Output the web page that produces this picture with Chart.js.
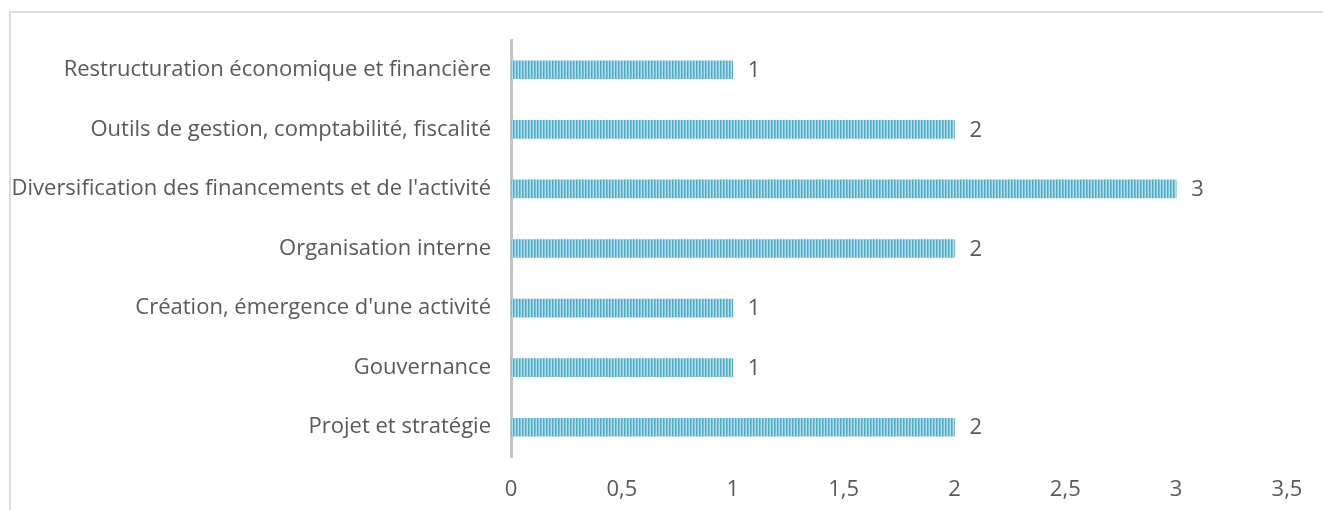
<!DOCTYPE html>
<html>
<head>
<meta charset="utf-8">
<script src="https://cdn.jsdelivr.net/npm/chart.js@4/dist/chart.umd.min.js"></script>
<style>
  html, body { margin: 0; padding: 0; background: #fff; }
  #wrap { position: relative; width: 1323px; height: 510px; overflow: hidden; }
  #frame { position: absolute; left: 9px; top: 11px; width: 1400px; height: 600px;
           border-left: 2px solid #dcdcdc; border-top: 2px solid #dcdcdc; }
  canvas { position: absolute; left: 0; top: 0; }
</style>
</head>
<body>
<div id="wrap">
  <div id="frame"></div>
  <canvas id="chart" width="1323" height="510"></canvas>
</div>
<script>
/* ================= DATA ================= */
const categories = [
  "Restructuration économique et financière",
  "Outils de gestion, comptabilité, fiscalité",
  "Diversification des financements et de l'activité",
  "Organisation interne",
  "Création, émergence d'une activité",
  "Gouvernance",
  "Projet et stratégie"
];
const values = [1, 2, 3, 2, 1, 1, 2];
const xMin = 0;
const xMax = 3.5;
const xStep = 0.5;

const FONT = "Open Sans";
const FONT_SIZE = 22;
const TEXT = "#595959";

/* ================= STRIPE PATTERN ================= */
function makeStripes() {
  const c = document.createElement("canvas");
  c.width = 3; c.height = 4;
  const g = c.getContext("2d");
  g.fillStyle = "#4aacc6";
  g.fillRect(0, 0, 1, 4);
  g.fillStyle = "#7cc3d7";
  g.fillRect(1, 0, 1, 4);
  g.fillStyle = "#b6dee9";
  g.fillRect(2, 0, 1, 4);
  return g.createPattern(c, "repeat");
}

/* ================= VALUE LABELS ================= */
const valueLabels = {
  id: "valueLabels",
  afterDatasetsDraw(chart) {
    const ctx = chart.ctx;
    const meta = chart.getDatasetMeta(0);
    ctx.save();
    ctx.font = `${FONT_SIZE}px "${FONT}"`;
    ctx.fillStyle = TEXT;
    ctx.textAlign = "left";
    ctx.textBaseline = "middle";
    meta.data.forEach((bar, i) => {
      ctx.fillText(String(values[i]), bar.x + 15, bar.y + 1);
    });
    ctx.restore();
  }
};

new Chart(document.getElementById("chart"), {
  type: "bar",
  data: {
    labels: categories,
    datasets: [{
      data: values,
      backgroundColor: makeStripes(),
      borderWidth: 0,
      barThickness: 18
    }]
  },
  plugins: [valueLabels],
  options: {
    indexAxis: "y",
    responsive: false,
    animation: false,
    layout: { padding: { left: 0, right: 36, top: 40, bottom: 0 } },
    plugins: { legend: { display: false }, tooltip: { enabled: false } },
    scales: {
      x: {
        min: xMin, max: xMax,
        ticks: {
          stepSize: xStep,
          color: TEXT,
          font: { family: FONT, size: FONT_SIZE },
          padding: 20,
          callback: v => String(v).replace(".", ",")
        },
        grid: { display: false, drawTicks: false },
        border: { display: false },
        afterFit(scale) { scale.height = 53; }
      },
      y: {
        ticks: {
          color: TEXT,
          font: { family: FONT, size: FONT_SIZE },
          padding: 20
        },
        grid: { display: false, drawTicks: false },
        border: { display: true, color: "#c4c4c4", width: 3 },
        afterFit(scale) { scale.width = 511; }
      }
    }
  }
});
</script>
</body>
</html>
